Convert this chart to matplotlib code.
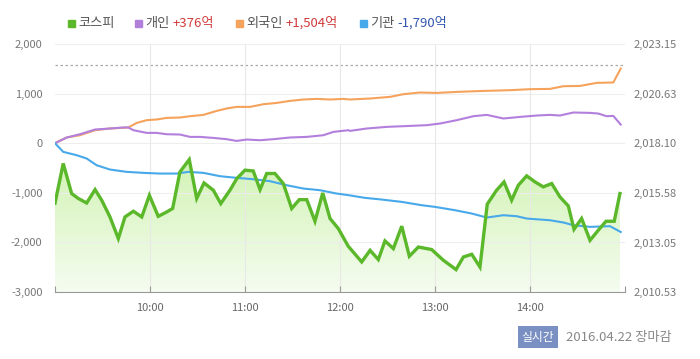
import matplotlib.pyplot as plt
import numpy as np
from matplotlib.colors import LinearSegmentedColormap

plt.rcParams['font.family'] = ['Noto Sans CJK KR', 'DejaVu Sans']

# minutes after 09:00
kospi_t = [0, 5.2, 10.5, 14.7, 20.0, 25.3, 29.5, 34.7, 40.0, 44.2, 49.5, 54.8, 59.6, 65.2,
           70.5, 74.3, 78.9, 84.8, 89.5, 94.1, 100.0, 104.7, 110.5, 114.8, 120.0, 125.2,
           129.5, 133.7, 138.9, 144.2, 149.5, 154.3, 159.0, 164.2, 169.1, 173.7, 178.9,
           185.2, 193.7, 199.0, 204.2, 208.4, 213.7, 219.0, 223.8, 229.5, 237.9, 245.2,
           253.3, 257.9, 263.2, 268.4, 273.0, 278.9, 283.6, 288.4, 292.6, 297.9, 303.2,
           308.4, 313.7, 318.9, 324.2, 327.8, 332.6, 337.9, 343.1, 348.0, 353.2, 356.8]
kospi = [2015.05, 2017.07, 2015.54, 2015.29, 2015.06, 2015.74, 2015.20, 2014.35, 2013.25,
         2014.35, 2014.64, 2014.35, 2015.45, 2014.38, 2014.60, 2014.78, 2016.64, 2017.27,
         2015.29, 2016.08, 2015.71, 2015.03, 2015.71, 2016.30, 2016.73, 2016.69, 2015.74,
         2016.56, 2016.56, 2016.05, 2014.78, 2015.23, 2015.23, 2014.13, 2015.57, 2014.27,
         2013.76, 2012.86, 2012.06, 2012.65, 2012.18, 2013.13, 2012.74, 2013.88, 2012.35,
         2012.82, 2012.69, 2012.15, 2011.67, 2012.31, 2012.45, 2011.80, 2015.00, 2015.71,
         2016.13, 2015.20, 2015.96, 2016.44, 2016.13, 2015.88, 2016.05, 2015.37, 2014.91,
         2013.72, 2014.27, 2013.16, 2013.67, 2014.13, 2014.13, 2015.54]

foreign_t = [0, 7.4, 15.8, 25.3, 34.7, 46.3, 51.6, 57.9, 64.2, 70.5, 78.9, 85.3, 93.7,
             102.1, 108.4, 114.7, 123.2, 131.6, 140.0, 148.4, 156.8, 165.3, 173.7, 182.1,
             186.3, 198.9, 211.6, 220.0, 230.5, 241.1, 253.7, 270.5, 287.4, 300.0, 312.6,
             321.1, 331.6, 342.1, 352.6, 357.3]
foreign = [0, 115, 161, 262, 296, 317, 409, 464, 478, 510, 518, 544, 571, 651, 700, 732,
           732, 786, 812, 853, 881, 893, 881, 893, 881, 901, 934, 988, 1022, 1014, 1034,
           1054, 1069, 1089, 1095, 1149, 1155, 1216, 1224, 1504]

indiv_t = [0, 7.4, 15.8, 25.3, 34.7, 43.2, 46.3, 49.5, 57.9, 64.2, 70.5, 78.9, 85.3, 91.6,
           99.9, 108.4, 114.7, 121.1, 129.5, 137.9, 148.4, 158.9, 169.5, 175.8, 185.3,
           186.3, 196.8, 209.5, 220.0, 234.7, 243.2, 253.7, 264.2, 272.7, 283.2, 293.7,
           304.2, 312.6, 318.9, 327.4, 337.9, 343.1, 348.4, 352.6, 357.3]
indiv = [0, 115, 181, 276, 296, 317, 317, 262, 208, 208, 181, 175, 127, 127, 107, 81, 46,
         74, 60, 81, 115, 127, 161, 228, 262, 248, 296, 329, 343, 363, 397, 464, 544, 571,
         498, 530, 558, 571, 558, 619, 611, 598, 544, 551, 376]

inst_t = [0, 5.2, 13.7, 20.0, 26.3, 34.7, 45.3, 55.8, 66.3, 76.8, 84.2, 93.7, 104.2, 114.7,
          125.3, 135.8, 146.3, 156.8, 167.4, 177.9, 185.3, 195.8, 206.3, 218.9, 231.6,
          240.0, 252.6, 263.2, 272.7, 283.2, 291.6, 297.9, 312.6, 321.1, 327.4, 337.9,
          350.5, 357.3]
inst = [0, -175, -242, -309, -444, -531, -578, -598, -612, -612, -578, -598, -665, -699,
        -726, -766, -847, -914, -948, -1015, -1048, -1102, -1136, -1183, -1250, -1284,
        -1351, -1418, -1499, -1452, -1472, -1519, -1553, -1599, -1653, -1687, -1673, -1790]

left_ticks = [-3000, -2000, -1000, 0, 1000, 2000]
right_ticks = [2010.53, 2013.05, 2015.58, 2018.10, 2020.63, 2023.15]
hour_ticks = [60, 120, 180, 240, 300]
hour_labels = ['10:00', '11:00', '12:00', '13:00', '14:00']
prev_close = 2022.07

fig = plt.figure(figsize=(7, 3.59), dpi=100)
ax = fig.add_axes([55 / 700, 1 - 292 / 359, 570 / 700, 248 / 359])
ax2 = ax.twinx()
ax.set_zorder(ax2.get_zorder() + 1)
ax.patch.set_visible(False)

ax.set_xlim(0, 360)
ax.set_ylim(-3000, 2000)
ax2.set_ylim(right_ticks[0], right_ticks[-1])

# gradient area under kospi
poly = ax2.fill_between(kospi_t, kospi, right_ticks[0], color='none', lw=0)
cmap = LinearSegmentedColormap.from_list('g', ['#f5fcf0', '#d2f3b5'])
grad = np.linspace(0, 1, 256).reshape(-1, 1)
img = ax2.imshow(grad, cmap=cmap, aspect='auto', origin='lower',
                 extent=[0, 360, right_ticks[0], max(kospi)], zorder=1)
img.set_clip_path(poly.get_paths()[0], transform=ax2.transData)

ax2.axhline(prev_close, color='#aaaaaa', lw=0.9, ls=(0, (2, 2)), zorder=2)

for y in left_ticks[1:]:
    ax.axhline(y, color='#eeeeee', lw=0.8, zorder=0)
for x in hour_ticks:
    ax.axvline(x, color='#e8e8e8', lw=0.8, zorder=0)

ax.plot(foreign_t, foreign, color='#f5a35c', lw=1.5, zorder=3)
ax.plot(indiv_t, indiv, color='#b37fdd', lw=1.5, zorder=3)
ax.plot(inst_t, inst, color='#47a9ea', lw=1.5, zorder=3)
ax.plot(kospi_t, kospi, color='#5ab82a', lw=2.4, zorder=4,
        transform=ax2.transData, solid_joinstyle='miter')

for a in (ax, ax2):
    for s in ('top', 'left', 'right'):
        a.spines[s].set_visible(False)
    a.spines['bottom'].set_color('#999999')
ax2.spines['bottom'].set_visible(False)

ax.set_xticks(hour_ticks + [0, 360])
ax.set_xticklabels(hour_labels + ['', ''])
ax.tick_params(axis='x', direction='in', length=4, color='#999999', labelsize=8,
               labelcolor='#666666', pad=8)
ax.set_yticks(left_ticks)
ax.set_yticklabels([f'{v:,}' for v in left_ticks])
ax.tick_params(axis='y', length=0, labelsize=8, labelcolor='#777777', pad=9)
ax2.set_yticks(right_ticks)
ax2.set_yticklabels([f'{v:,.2f}' for v in right_ticks])
ax2.tick_params(axis='y', length=0, labelsize=8, labelcolor='#777777', pad=6)

# legend row
legend = [('#5ab82a', '코스피', '', None), ('#b37fdd', '개인', '+376억', '#d13b3b'),
          ('#f5a35c', '외국인', '+1,504억', '#d13b3b'), ('#47a9ea', '기관', '-1,790억', '#3356b0')]
xpos = [68, 135, 236, 360]
for x, (c, name, val, vc) in zip(xpos, legend):
    fig.patches.append(plt.Rectangle((x / 700, 1 - 27 / 359), 7 / 700, 7 / 359,
                                     transform=fig.transFigure, color=c))
    t = fig.text((x + 10) / 700, 1 - 23 / 359, name, fontsize=9.5, color='#555555',
                 va='center')
    if val:
        fig.canvas.draw()
        bb = t.get_window_extent()
        fig.text(bb.x1 / 700 + 3 / 700, 1 - 23 / 359, val, fontsize=9.5, color=vc,
                 va='center')

fig.text(538 / 700, 1 - 337 / 359, '실시간', fontsize=8.5, color='white', ha='center',
         va='center', bbox=dict(boxstyle='square,pad=0.35', fc='#7a8fc2', ec='none'))
fig.text(566 / 700, 1 - 337 / 359, '2016.04.22 장마감', fontsize=9.5, color='#888888',
         va='center')

fig.savefig('out.png', dpi=100)
